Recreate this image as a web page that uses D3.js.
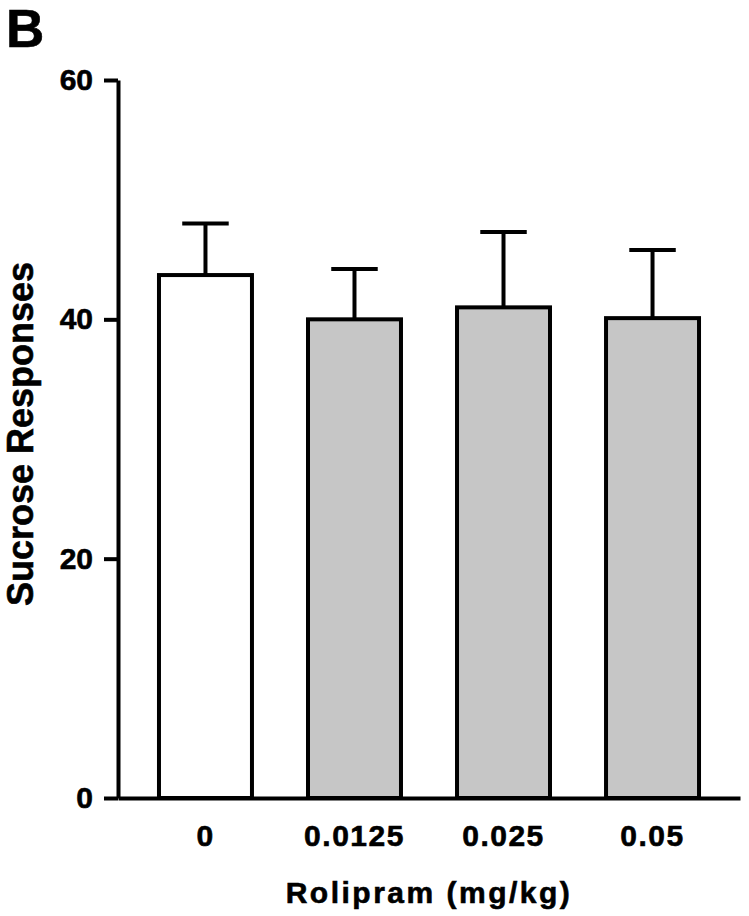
<!DOCTYPE html>
<html>
<head>
<meta charset="utf-8">
<script src="https://cdn.jsdelivr.net/npm/d3@7"></script>
<style>
  body { margin: 0; background: #fff; }
  text { font-family: "Liberation Sans", Arial, sans-serif; font-weight: bold; stroke: #000; stroke-width: 0.6px; }
</style>
</head>
<body>
<svg class="d3"></svg>
<script>
var doses = ['0', '0.0125', '0.025', '0.05'];
var means = [43.7, 40.0, 41.0, 40.1];
var sems = [4.3, 4.2, 6.3, 5.7];
var yTicks = [0, 20, 40, 60];

var width = 749;
var height = 916;

var svg = d3.select('svg.d3')
    .attr('width', width)
    .attr('height', height);

var x = d3.scaleBand()
    .domain(doses)
    .range([118, 740])
    .paddingInner(0.376)
    .paddingOuter(0.275);

var y = d3.scaleLinear()
    .domain([0, 60])
    .range([798, 80]);

var fills = d3.scaleOrdinal()
    .domain(doses)
    .range(['#ffffff', '#c6c6c6', '#c6c6c6', '#c6c6c6']);

// panel letter
svg.append('text')
    .attr('x', 6)
    .attr('y', 47)
    .attr('font-size', 53)
    .text('B');

// bars
var bars = svg.append('g');
doses.forEach(function(d, i) {
    var cx = x(d) + x.bandwidth() / 2;
    // error bar (upper only)
    bars.append('line')
        .attr('x1', cx).attr('x2', cx)
        .attr('y1', y(means[i])).attr('y2', y(means[i] + sems[i]))
        .attr('stroke', '#000').attr('stroke-width', 4);
    bars.append('line')
        .attr('x1', cx - x.bandwidth() / 4).attr('x2', cx + x.bandwidth() / 4)
        .attr('y1', y(means[i] + sems[i])).attr('y2', y(means[i] + sems[i]))
        .attr('stroke', '#000').attr('stroke-width', 4);
    bars.append('rect')
        .attr('x', x(d))
        .attr('y', y(means[i]))
        .attr('width', x.bandwidth())
        .attr('height', y(0) - y(means[i]))
        .attr('fill', fills(d))
        .attr('stroke', '#000')
        .attr('stroke-width', 4);
});

// y axis
var yAxis = svg.append('g')
    .attr('transform', 'translate(118,0)')
    .call(d3.axisLeft(y).tickValues(yTicks).tickSize(14).tickSizeOuter(0).tickPadding(11));
yAxis.select('.domain').attr('stroke-width', 4);
yAxis.selectAll('.tick line').attr('stroke-width', 4);
yAxis.selectAll('.tick text')
    .attr('font-size', 30)
    .attr('font-family', '"Liberation Sans", Arial, sans-serif')
    .attr('font-weight', 'bold')
    .attr('fill', '#000');

// x axis
var xAxis = svg.append('g')
    .attr('transform', 'translate(0,798)')
    .call(d3.axisBottom(x).tickSize(0).tickSizeOuter(0).tickPadding(27));
xAxis.select('.domain').attr('stroke-width', 4);
xAxis.selectAll('.tick text')
    .attr('font-size', 30)
    .attr('letter-spacing', 1.5)
    .attr('font-family', '"Liberation Sans", Arial, sans-serif')
    .attr('font-weight', 'bold')
    .attr('fill', '#000');

// axis titles
svg.append('text')
    .attr('x', 429)
    .attr('y', 903)
    .attr('text-anchor', 'middle')
    .attr('font-size', 30)
    .attr('letter-spacing', 2.5)
    .text('Rolipram (mg/kg)');

svg.append('text')
    .attr('transform', 'translate(33,434) rotate(-90)')
    .attr('text-anchor', 'middle')
    .attr('font-size', 36)
    .text('Sucrose Responses');
</script>
</body>
</html>
